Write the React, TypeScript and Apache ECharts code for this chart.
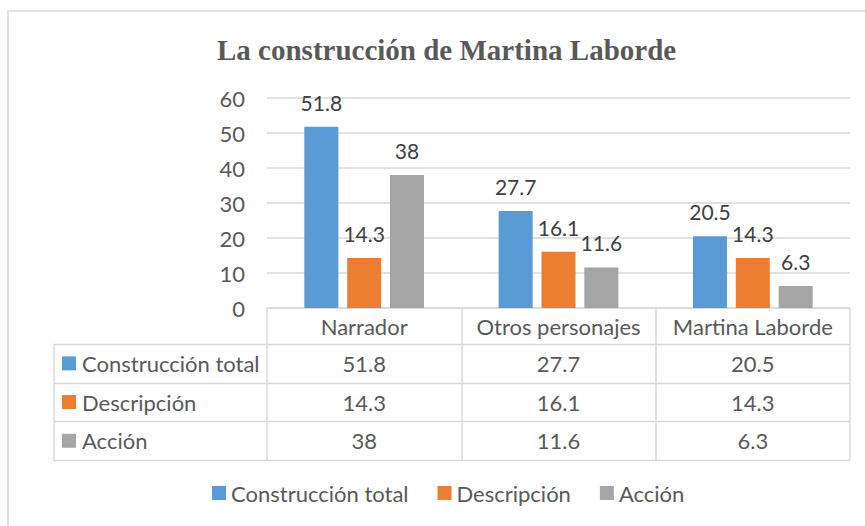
import React, { useEffect, useRef } from "react";
import * as echarts from "echarts";

const categories = ["Narrador", "Otros personajes", "Martina Laborde"];
const seriesNames = ["Construcción total", "Descripción", "Acción"];
const construccionTotal = [51.8, 27.7, 20.5];
const descripcion = [14.3, 16.1, 14.3];
const accion = [38, 11.6, 6.3];
const yTicks = [0, 10, 20, 30, 40, 50, 60];
const colors = ["#5B9BD5", "#ED7D31", "#A5A5A5"];

const FONT = "Lato, 'Liberation Sans', sans-serif";

export default function App() {
  const ref = useRef<HTMLDivElement>(null);
  useEffect(() => {
    if (!ref.current) return;
    const chart = echarts.init(ref.current, null, { renderer: "svg" });
    const W = 865;
    const H = 526;
    const gridLeft = 267;
    const gridRight = 850;
    const gridTop = 98;
    const gridBottom = 308;
    const tableLeft = 54;
    const headerBottom = 344;
    const rowH = 38.7;
    const tableBottom = headerBottom + rowH * 3;
    const colW = (gridRight - gridLeft) / categories.length;
    const allSeries = [construccionTotal, descripcion, accion];

    const graphics: any[] = [];
    // outer chart border
    graphics.push({
      type: "rect",
      shape: { x: 8, y: 11, width: 900, height: 600 },
      style: { fill: "none", stroke: "#D9D9D9", lineWidth: 1.5 },
      silent: true,
    });
    // table horizontal lines
    for (let r = 0; r <= 3; r++) {
      const y = Math.round(headerBottom + rowH * r) + 0.5;
      graphics.push({
        type: "line",
        shape: { x1: tableLeft, y1: y, x2: gridRight, y2: y },
        style: { stroke: "#D9D9D9", lineWidth: 1.5 },
        silent: true,
      });
    }
    graphics.push({
      type: "line",
      shape: { x1: tableLeft, y1: headerBottom, x2: tableLeft, y2: tableBottom + 0.5 },
      style: { stroke: "#D9D9D9", lineWidth: 1.5 },
      silent: true,
    });
    // row headers and values
    seriesNames.forEach((name, r) => {
      const cy = headerBottom + rowH * r + rowH / 2;
      graphics.push({
        type: "rect",
        shape: { x: 62, y: cy - 7, width: 14, height: 14 },
        style: { fill: colors[r] },
        silent: true,
      });
      graphics.push({
        type: "text",
        x: 82,
        y: cy,
        style: {
          text: name,
          font: `22px ${FONT}`,
          fill: "#595959",
          textAlign: "left",
          textVerticalAlign: "middle",
        },
        silent: true,
      });
      allSeries[r].forEach((v, c) => {
        graphics.push({
          type: "text",
          x: gridLeft + colW * c + colW / 2,
          y: cy,
          style: {
            text: String(v),
            font: `22px ${FONT}`,
            fill: "#595959",
            textAlign: "center",
            textVerticalAlign: "middle",
          },
          silent: true,
        });
      });
    });

    chart.setOption({
      animation: false,
      backgroundColor: "#ffffff",
      title: {
        text: "La construcción de Martina Laborde",
        left: 212,
        top: 30,
        textStyle: {
          fontFamily: "'Liberation Serif', 'Times New Roman', serif",
          fontWeight: "bold",
          fontSize: 29,
          color: "#595959",
        },
      },
      legend: {
        left: 207,
        top: 477,
        itemWidth: 14,
        itemHeight: 14,
        itemGap: 29,
        icon: "rect",
        data: seriesNames,
        textStyle: { fontFamily: FONT, fontSize: 22, color: "#595959" },
      },
      grid: {
        left: gridLeft,
        right: W - gridRight,
        top: gridTop,
        bottom: H - gridBottom,
      },
      xAxis: {
        type: "category",
        data: categories,
        axisLine: { show: true, lineStyle: { color: "#D9D9D9", width: 1.5 } },
        axisTick: {
          show: true,
          length: tableBottom - gridBottom,
          interval: 0,
          lineStyle: { color: "#D9D9D9", width: 1.5 },
        },
        axisLabel: {
          interval: 0,
          margin: 7,
          fontFamily: FONT,
          fontSize: 22,
          color: "#595959",
        },
      },
      yAxis: {
        type: "value",
        min: yTicks[0],
        max: yTicks[yTicks.length - 1],
        interval: 10,
        axisLine: { show: false },
        axisTick: { show: false },
        axisLabel: { margin: 22, fontFamily: FONT, fontSize: 22, color: "#595959" },
        splitLine: { lineStyle: { color: "#D9D9D9", width: 1.5 } },
      },
      series: allSeries.map((data, i) => ({
        name: seriesNames[i],
        type: "bar",
        data,
        barWidth: 34,
        barGap: "26%",
        itemStyle: { color: colors[i] },
        label: {
          show: true,
          position: "top",
          distance: 14,
          fontFamily: FONT,
          fontSize: 21,
          color: "#404040",
        },
      })),
      graphic: graphics,
    });
    return () => chart.dispose();
  }, []);
  return (
    <div
      ref={ref}
      style={{ position: "absolute", left: 0, top: 0, width: 865, height: 526 }}
    />
  );
}
